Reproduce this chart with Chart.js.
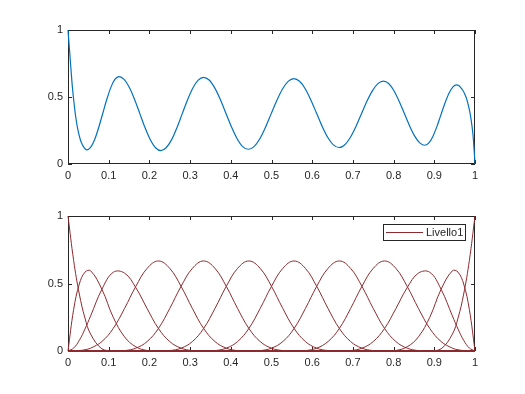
<!DOCTYPE html>
<html>
<head>
<meta charset="utf-8">
<script src="https://cdn.jsdelivr.net/npm/chart.js@4.4.0/dist/chart.umd.min.js"></script>
<style>
  html, body { margin: 0; padding: 0; background: #fff; }
  body { width: 525px; height: 394px; position: relative; overflow: hidden; }
  .panel { position: absolute; left: 0; width: 525px; height: 197px; }
  #top { top: 0; }
  #bottom { top: 197px; }
</style>
</head>
<body>
<div class="panel" id="top"><canvas id="topChart" width="525" height="197"></canvas></div>
<div class="panel" id="bottom"><canvas id="bottomChart" width="525" height="197"></canvas></div>
<script>
// tick positions (both panels)
const xTicks = [0, 0.1, 0.2, 0.3, 0.4, 0.5, 0.6, 0.7, 0.8, 0.9, 1];
const yTicks = [0, 0.5, 1];

// top panel: the blue curve
const topX = [0, 0.005, 0.01, 0.015, 0.02, 0.025, 0.03, 0.035, 0.04, 0.046,
  0.0559, 0.0658, 0.0756, 0.0855, 0.0954, 0.1053, 0.1151, 0.125,
  0.1379, 0.1508, 0.1636, 0.1765, 0.1894, 0.2023, 0.2151, 0.228,
  0.2411, 0.2543, 0.2674, 0.2805, 0.2936, 0.3068, 0.3199, 0.333,
  0.3468, 0.3605, 0.3743, 0.388, 0.4018, 0.4155, 0.4293, 0.443,
  0.457, 0.471, 0.485, 0.499, 0.513, 0.527, 0.541, 0.555,
  0.5689, 0.5828, 0.5966, 0.6105, 0.6244, 0.6383, 0.6521, 0.666,
  0.6796, 0.6933, 0.7069, 0.7205, 0.7341, 0.7478, 0.7614, 0.775,
  0.7878, 0.8005, 0.8133, 0.826, 0.8388, 0.8515, 0.8643, 0.877,
  0.8868, 0.8965, 0.9063, 0.916, 0.9258, 0.9355, 0.9453, 0.955,
  0.96, 0.965, 0.97, 0.975, 0.98, 0.985, 0.99, 0.995, 1];
const topY = [1.0, 0.80, 0.60, 0.45, 0.33, 0.245, 0.185, 0.145, 0.12, 0.105,
  0.126, 0.185, 0.274, 0.379, 0.483, 0.572, 0.631, 0.652,
  0.631, 0.571, 0.482, 0.376, 0.270, 0.181, 0.121, 0.100,
  0.121, 0.180, 0.269, 0.374, 0.478, 0.567, 0.626, 0.647,
  0.627, 0.568, 0.481, 0.379, 0.276, 0.189, 0.130, 0.110,
  0.130, 0.187, 0.273, 0.374, 0.474, 0.560, 0.617, 0.637,
  0.617, 0.562, 0.478, 0.380, 0.282, 0.198, 0.143, 0.123,
  0.142, 0.196, 0.276, 0.371, 0.466, 0.546, 0.600, 0.619,
  0.601, 0.549, 0.471, 0.380, 0.288, 0.210, 0.158, 0.140,
  0.157, 0.206, 0.279, 0.365, 0.451, 0.524, 0.573, 0.590,
  0.585, 0.57, 0.55, 0.52, 0.48, 0.42, 0.34, 0.22, 0.01];

// bottom panel: the 12 basis curves, sampled on one shared x grid
const basisX = [0, 0.0139, 0.0278, 0.0417, 0.0556, 0.0833, 0.1111, 0.1389, 0.1667, 0.1944,
  0.2222, 0.25, 0.2778, 0.3056, 0.3333, 0.3611, 0.3889, 0.4167, 0.4444, 0.4722,
  0.5, 0.5278, 0.5556, 0.5833, 0.6111, 0.6389, 0.6667, 0.6944, 0.7222, 0.75,
  0.7778, 0.8056, 0.8333, 0.8611, 0.8889, 0.9167, 0.9444, 0.9583, 0.9722, 0.9861,
  1];
const basis0 = [1, 0.670, 0.422, 0.244, 0.125, 0.016, 0, 0, 0, 0,
  0, 0, 0, 0, 0, 0, 0, 0, 0, 0,
  0, 0, 0, 0, 0, 0, 0, 0, 0, 0,
  0, 0, 0, 0, 0, 0, 0, 0, 0, 0,
  0];
const basis1 = [0, 0.308, 0.496, 0.584, 0.594, 0.457, 0.250, 0.105, 0.031, 0.004,
  0, 0, 0, 0, 0, 0, 0, 0, 0, 0,
  0, 0, 0, 0, 0, 0, 0, 0, 0, 0,
  0, 0, 0, 0, 0, 0, 0, 0, 0, 0,
  0];
const basis2 = [0, 0.022, 0.079, 0.163, 0.260, 0.457, 0.583, 0.577, 0.469, 0.314,
  0.167, 0.070, 0.021, 0.003, 0, 0, 0, 0, 0, 0,
  0, 0, 0, 0, 0, 0, 0, 0, 0, 0,
  0, 0, 0, 0, 0, 0, 0, 0, 0, 0,
  0];
const basis3 = [0, 0, 0.003, 0.009, 0.021, 0.070, 0.167, 0.315, 0.479, 0.612,
  0.667, 0.612, 0.479, 0.315, 0.167, 0.070, 0.021, 0.003, 0, 0,
  0, 0, 0, 0, 0, 0, 0, 0, 0, 0,
  0, 0, 0, 0, 0, 0, 0, 0, 0, 0,
  0];
const basis4 = [0, 0, 0, 0, 0, 0, 0, 0.003, 0.021, 0.070,
  0.167, 0.315, 0.479, 0.612, 0.667, 0.612, 0.479, 0.315, 0.167, 0.070,
  0.021, 0.003, 0, 0, 0, 0, 0, 0, 0, 0,
  0, 0, 0, 0, 0, 0, 0, 0, 0, 0,
  0];
const basis5 = [0, 0, 0, 0, 0, 0, 0, 0, 0, 0,
  0, 0.003, 0.021, 0.070, 0.167, 0.315, 0.479, 0.612, 0.667, 0.612,
  0.479, 0.315, 0.167, 0.070, 0.021, 0.003, 0, 0, 0, 0,
  0, 0, 0, 0, 0, 0, 0, 0, 0, 0,
  0];
const basis6 = [0, 0, 0, 0, 0, 0, 0, 0, 0, 0,
  0, 0, 0, 0, 0, 0.003, 0.021, 0.070, 0.167, 0.315,
  0.479, 0.612, 0.667, 0.612, 0.479, 0.315, 0.167, 0.070, 0.021, 0.003,
  0, 0, 0, 0, 0, 0, 0, 0, 0, 0,
  0];
const basis7 = [0, 0, 0, 0, 0, 0, 0, 0, 0, 0,
  0, 0, 0, 0, 0, 0, 0, 0, 0, 0.003,
  0.021, 0.070, 0.167, 0.315, 0.479, 0.612, 0.667, 0.612, 0.479, 0.315,
  0.167, 0.070, 0.021, 0.003, 0, 0, 0, 0, 0, 0,
  0];
const basis8 = [0, 0, 0, 0, 0, 0, 0, 0, 0, 0,
  0, 0, 0, 0, 0, 0, 0, 0, 0, 0,
  0, 0, 0, 0.003, 0.021, 0.070, 0.167, 0.315, 0.479, 0.612,
  0.667, 0.612, 0.479, 0.315, 0.167, 0.070, 0.021, 0.009, 0.003, 0,
  0];
const basis9 = [0, 0, 0, 0, 0, 0, 0, 0, 0, 0,
  0, 0, 0, 0, 0, 0, 0, 0, 0, 0,
  0, 0, 0, 0, 0, 0, 0, 0.003, 0.021, 0.070,
  0.167, 0.314, 0.469, 0.577, 0.583, 0.457, 0.260, 0.163, 0.079, 0.022,
  0];
const basis10 = [0, 0, 0, 0, 0, 0, 0, 0, 0, 0,
  0, 0, 0, 0, 0, 0, 0, 0, 0, 0,
  0, 0, 0, 0, 0, 0, 0, 0, 0, 0,
  0, 0.004, 0.031, 0.105, 0.250, 0.457, 0.594, 0.584, 0.496, 0.308,
  0];
const basis11 = [0, 0, 0, 0, 0, 0, 0, 0, 0, 0,
  0, 0, 0, 0, 0, 0, 0, 0, 0, 0,
  0, 0, 0, 0, 0, 0, 0, 0, 0, 0,
  0, 0, 0, 0, 0, 0.016, 0.125, 0.244, 0.422, 0.670,
  1];
const basisCurves = [basis0, basis1, basis2, basis3, basis4, basis5,
  basis6, basis7, basis8, basis9, basis10, basis11];
const legendLabel = 'Livello1';

const axisColor = '#262626';
const tickFont = { family: 'Arial, "Liberation Sans", Helvetica, sans-serif', size: 11 };

// MATLAB-like box with inward ticks on all four sides
const matlabAxes = {
  id: 'matlabAxes',
  beforeDatasetsDraw(chart) {
    const { ctx, chartArea: { left, right, top, bottom }, scales: { x, y } } = chart;
    ctx.save();
    ctx.strokeStyle = axisColor;
    ctx.lineWidth = 1;
    ctx.beginPath();
    ctx.rect(left + 0.5, top + 0.5, right - left - 1, bottom - top - 1);
    x.ticks.forEach(t => {
      const px = Math.round(x.getPixelForValue(t.value)) + 0.5;
      ctx.moveTo(px, bottom); ctx.lineTo(px, bottom - 4);
      ctx.moveTo(px, top); ctx.lineTo(px, top + 4);
    });
    y.ticks.forEach(t => {
      const py = Math.round(y.getPixelForValue(t.value)) + 0.5;
      ctx.moveTo(left, py); ctx.lineTo(left + 4, py);
      ctx.moveTo(right, py); ctx.lineTo(right - 4, py);
    });
    ctx.stroke();
    ctx.restore();
  }
};

// boxed legend in the top right corner of the axes
const boxedLegend = {
  id: 'boxedLegend',
  afterDraw(chart) {
    const { ctx, chartArea: { right, top } } = chart;
    const ds = chart.data.datasets[0];
    const w = 82, h = 16;
    const bx = right - 10 - w, by = top + 8;
    ctx.save();
    ctx.fillStyle = '#fff';
    ctx.fillRect(bx, by, w, h);
    ctx.strokeStyle = axisColor;
    ctx.lineWidth = 1;
    ctx.strokeRect(bx + 0.5, by + 0.5, w, h);
    ctx.strokeStyle = ds.borderColor;
    ctx.beginPath();
    ctx.moveTo(bx + 3, by + h / 2 + 0.5);
    ctx.lineTo(bx + 40, by + h / 2 + 0.5);
    ctx.stroke();
    ctx.fillStyle = axisColor;
    ctx.font = `${tickFont.size}px ${tickFont.family}`;
    ctx.textBaseline = 'middle';
    ctx.fillText(ds.label, bx + 43, by + h / 2 + 1);
    ctx.restore();
  }
};

function makeScales(xAxisHeight) {
  return {
    x: {
      type: 'linear', min: 0, max: 1,
      afterBuildTicks: s => { s.ticks = xTicks.map(v => ({ value: v })); },
      afterFit: s => { s.height = xAxisHeight; },
      ticks: { callback: v => String(v), font: tickFont, color: axisColor, padding: 5, maxRotation: 0, autoSkip: false },
      grid: { display: false, drawTicks: false },
      border: { display: false }
    },
    y: {
      type: 'linear', min: 0, max: 1,
      afterBuildTicks: s => { s.ticks = yTicks.map(v => ({ value: v })); },
      afterFit: s => { s.width = 68; },
      ticks: { callback: v => String(v), font: tickFont, color: axisColor, padding: 5 },
      grid: { display: false, drawTicks: false },
      border: { display: false }
    }
  };
}

const baseOptions = {
  responsive: false,
  animation: false,
  events: [],
  plugins: { legend: { display: false }, tooltip: { enabled: false } }
};

new Chart(document.getElementById('topChart'), {
  type: 'line',
  data: {
    datasets: [{
      data: topX.map((x, i) => ({ x, y: topY[i] })),
      borderColor: '#0072BD',
      borderWidth: 1.2,
      pointRadius: 0,
      cubicInterpolationMode: 'monotone',
      clip: 4
    }]
  },
  options: Object.assign({}, baseOptions, {
    layout: { padding: { left: 0, right: 50, top: 30, bottom: 0 } },
    scales: makeScales(33)
  }),
  plugins: [matlabAxes]
});

new Chart(document.getElementById('bottomChart'), {
  type: 'line',
  data: {
    datasets: basisCurves.map((vals, i) => ({
      label: i === 0 ? legendLabel : '',
      data: basisX.map((x, j) => ({ x, y: vals[j] })),
      borderColor: '#8e2a2e',
      borderWidth: 1,
      pointRadius: 0,
      tension: 0.4,
      clip: 4
    }))
  },
  options: Object.assign({}, baseOptions, {
    layout: { padding: { left: 0, right: 50, top: 19, bottom: 0 } },
    scales: makeScales(43)
  }),
  plugins: [matlabAxes, boxedLegend]
});
</script>
</body>
</html>
